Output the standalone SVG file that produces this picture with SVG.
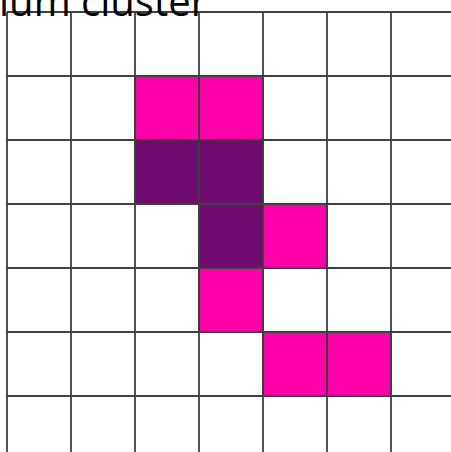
<svg xmlns="http://www.w3.org/2000/svg" width="451" height="452" viewBox="0 0 451 452">
<style>
.grid{stroke:#404040;stroke-width:1.8;fill:none}
.pink{fill:#FF00AA;stroke:#1a1a1a;stroke-width:1.8}
.purple{fill:#6F0A6E;stroke:#1a1a1a;stroke-width:1.8}
.title{font-family:"Open Sans","Liberation Sans",sans-serif;font-size:40px;fill:#000}
</style>
<rect width="451" height="452" fill="#fff"/>
<g id="cells">
<rect class="pink" x="135" y="76" width="64" height="64"/>
<rect class="pink" x="199" y="76" width="64" height="64"/>
<rect class="purple" x="135" y="140" width="64" height="64"/>
<rect class="purple" x="199" y="140" width="64" height="64"/>
<rect class="purple" x="199" y="204" width="64" height="64"/>
<rect class="pink" x="263" y="204" width="64" height="64"/>
<rect class="pink" x="199" y="268" width="64" height="64"/>
<rect class="pink" x="263" y="332" width="64" height="64"/>
<rect class="pink" x="327" y="332" width="64" height="64"/>
</g>
<g id="grid" class="grid">
<path d="M7 12V452M71 12V452M135 12V452M199 12V452M263 12V452M327 12V452M391 12V452"/>
<path d="M7 12H451M7 76H451M7 140H451M7 204H451M7 268H451M7 332H451M7 396H451"/>
</g>
<text class="title" x="207" y="16" text-anchor="end">Medium cluster</text>
</svg>
